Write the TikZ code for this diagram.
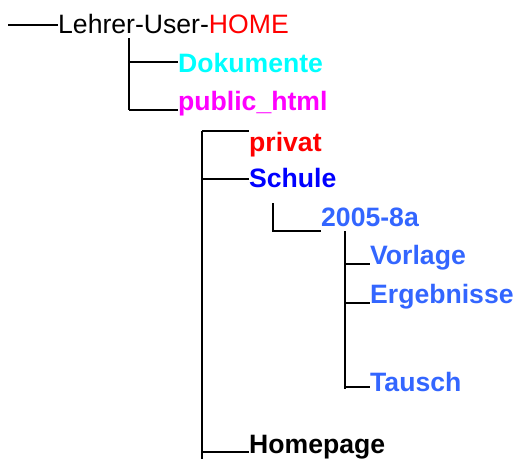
\documentclass[tikz,border=0pt]{standalone}
\usepackage{fontspec}
\setmainfont{Liberation Sans}
\definecolor{hcyan}{RGB}{0,255,255}
\definecolor{hmag}{RGB}{255,0,255}
\definecolor{hred}{RGB}{255,0,0}
\definecolor{hblue}{RGB}{0,0,255}
\definecolor{hroyal}{RGB}{51,102,255}
\begin{document}
\begin{tikzpicture}[x=1pt,y=-1pt,
  tree/.style={line width=1.3pt, draw=black},
  lbl/.style={anchor=base west, inner sep=0pt, font=\fontsize{26.6}{30}\selectfont\bfseries},
  rootlbl/.style={anchor=base west, inner sep=0pt, font=\fontsize{26.6}{30}\selectfont}]
\useasboundingbox (0,0) rectangle (514,459);

% texts
\node[rootlbl] (root) at (58,33) {Lehrer-User-\textcolor{hred}{HOME}};
\node[lbl, text=hcyan] (dok) at (178,72) {Dokumente};
\node[lbl, text=hmag] (pub) at (178,110) {public\_html};
\node[lbl, text=hred] (priv) at (249,151) {privat};
\node[lbl, text=hblue] (schule) at (249,187) {Schule};
\node[lbl, text=hroyal] (klasse) at (321,226) {2005-8a};
\node[lbl, text=hroyal] (vorl) at (370,264) {Vorlage};
\node[lbl, text=hroyal] (erg) at (370,303) {Ergebnisse};
\node[lbl, text=hroyal] (tausch) at (370,391) {Tausch};
\node[lbl, text=black] (home) at (249,453) {Homepage};

% joints
\coordinate (r0) at (8,25);
\coordinate (a0) at (129,38);
\coordinate (a1) at (129,62);
\coordinate (a2) at (129,110);
\coordinate (b1) at (202,131);
\coordinate (b2) at (202,179);
\coordinate (b3) at (202,452);
\coordinate (bend) at (202,459);
\coordinate (c0) at (273,203);
\coordinate (c1) at (273,231);
\coordinate (d0) at (345,231);
\coordinate (d1) at (345,264);
\coordinate (d2) at (345,303);
\coordinate (d3) at (345,387);
\coordinate (dend) at (345,389);

% connectors
\draw[tree] (r0) -- (r0 -| root.west);
\draw[tree] (a0) -- (a2);
\draw[tree] (a1) -- (a1 -| dok.west);
\draw[tree] (a2) -- (a2 -| pub.west);
\draw[tree] (b1) -- (bend);
\draw[tree] (b1) -- (b1 -| priv.west);
\draw[tree] (b2) -- (b2 -| schule.west);
\draw[tree] (b3) -- (b3 -| home.west);
\draw[tree] (c0) -- (c1) -- (c1 -| klasse.west);
\draw[tree] (d0) -- (dend);
\draw[tree] (d1) -- (d1 -| vorl.west);
\draw[tree] (d2) -- (d2 -| erg.west);
\draw[tree] (d3) -- (d3 -| tausch.west);
\end{tikzpicture}
\end{document}
